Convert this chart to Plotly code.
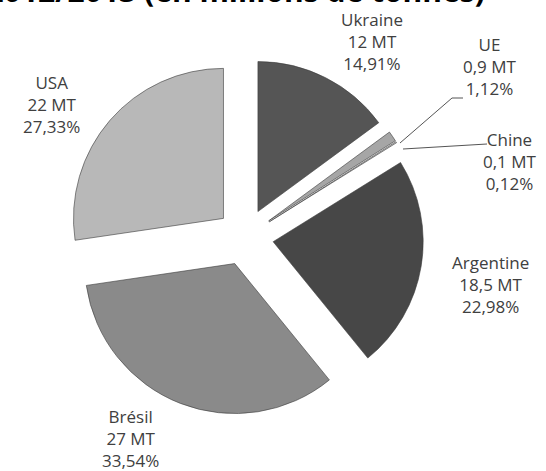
import plotly.graph_objects as go

countries = ["Ukraine", "UE", "Chine", "Argentine", "Brésil", "USA"]
volumes_mt = [12, 0.9, 0.1, 18.5, 27, 22]
slice_colors = ["#555555", "#a6a6a6", "#c8c8c8", "#474747", "#8a8a8a", "#b8b8b8"]
title_text = "Exportations de maïs 2012/2013 (en millions de tonnes)"

W, H = 546, 471

# label block centres (pixels from top-left) - layout only
label_xy = {
    "Ukraine": (372, 42),
    "UE": (490, 67),
    "Chine": (510, 162),
    "Argentine": (490, 284),
    "Brésil": (130, 438),
    "USA": (51, 105),
}
# leader lines (pixels) - layout only
leaders = [
    [(400, 143), (452, 98), (463, 98)],
    [(403, 149), (487, 144)],
]

total = sum(volumes_mt)


def fr_num(v):
    return f"{v:g}".replace(".", ",")


def px(x):
    return x / W


def py(y):
    return 1 - y / H


fig = go.Figure(
    go.Pie(
        labels=countries,
        values=volumes_mt,
        textinfo="none",
        sort=False,
        direction="clockwise",
        rotation=0,
        pull=[0.19] * len(countries),
        marker=dict(colors=slice_colors, line=dict(color="#3a3a3a", width=0.6)),
        hoverinfo="skip",
        automargin=False,
        domain=dict(x=[0.1218, 0.7758], y=[0.1178, 0.8758]),
        showlegend=False,
    )
)

for name, v in zip(countries, volumes_mt):
    pct = f"{v / total * 100:.2f}".replace(".", ",")
    x, y = label_xy[name]
    fig.add_annotation(
        text=f"{name}<br>{fr_num(v)} MT<br>{pct}%",
        xref="paper", yref="paper",
        x=px(x), y=py(y),
        xanchor="center", yanchor="middle",
        showarrow=False,
        align="center",
        font=dict(family="Open Sans", size=17, color="#404040"),
    )

for pts in leaders:
    for (x0, y0), (x1, y1) in zip(pts[:-1], pts[1:]):
        fig.add_shape(
            type="line", xref="paper", yref="paper",
            x0=px(x0), y0=py(y0), x1=px(x1), y1=py(y1),
            line=dict(color="#555555", width=1),
        )

fig.add_annotation(
    text=f"<b>{title_text}</b>",
    xref="paper", yref="paper",
    x=px(487), y=py(13),
    xanchor="right", yanchor="bottom",
    showarrow=False,
    font=dict(family="Open Sans", size=30, color="#000000"),
)

fig.update_layout(
    width=W, height=H,
    margin=dict(l=0, r=0, t=0, b=0, autoexpand=False),
    paper_bgcolor="white",
    plot_bgcolor="white",
)

fig.write_html(
    "out.html",
    config={"displayModeBar": False},
    post_script="document.body.style.margin='0';document.body.style.padding='0';",
)
